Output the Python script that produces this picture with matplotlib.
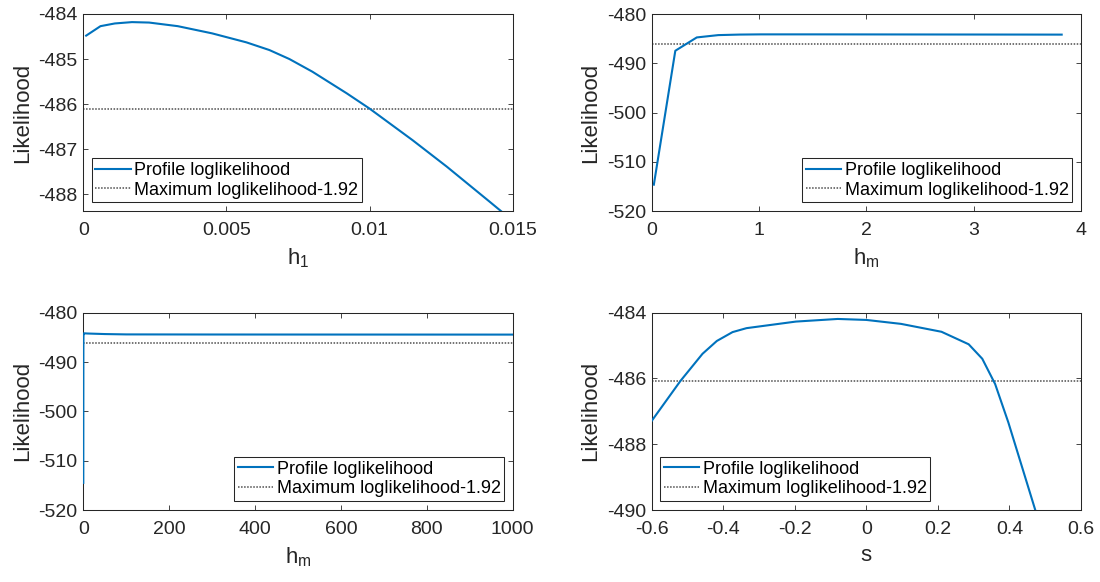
import numpy as np
import matplotlib.pyplot as plt

plt.rcParams['font.family'] = ['Liberation Sans', 'DejaVu Sans']
plt.rcParams['axes.unicode_minus'] = False
plt.rcParams['mathtext.default'] = 'regular'

# profile likelihood for h1
h1 = [0.0001, 0.0006, 0.0011, 0.0017, 0.0023, 0.0033, 0.0045, 0.0057, 0.0065, 0.0072,
      0.0080, 0.0086, 0.0092, 0.0100, 0.0115, 0.0127, 0.0142, 0.0146, 0.0155]
ll_h1 = [-484.48, -484.27, -484.21, -484.18, -484.19, -484.27, -484.43, -484.63, -484.80,
         -485.0, -485.28, -485.52, -485.76, -486.10, -486.8, -487.39, -488.17, -488.38,
         -488.85]

# profile likelihood for hm, small range
hm_small = [0.02, 0.22, 0.42, 0.62, 0.82, 1.02, 1.5, 2.0, 2.5, 3.0, 3.5, 3.82]
ll_hm_small = [-514.6, -487.45, -484.75, -484.28, -484.17, -484.13, -484.13, -484.14,
               -484.15, -484.16, -484.17, -484.18]

# profile likelihood for hm, wide range
hm_wide = [0.02, 0.22, 0.42, 1, 4, 10, 50, 100, 300, 600, 1000]
ll_hm_wide = [-514.5, -487.5, -484.8, -484.18, -484.19, -484.22, -484.33, -484.4,
              -484.42, -484.43, -484.44]

# profile likelihood for s
s_vals = [-0.6, -0.52, -0.458, -0.418, -0.374, -0.335, -0.197, -0.08, 0.0, 0.097,
          0.21, 0.286, 0.324, 0.36, 0.397, 0.436, 0.473, 0.51]
ll_s = [-487.29, -486.08, -485.25, -484.86, -484.59, -484.47, -484.27, -484.19, -484.22,
        -484.34, -484.58, -484.96, -485.4, -486.17, -487.34, -488.72, -490.03, -491.3]

cutoffs = [-486.10, -486.05, -486.1, -486.09]

blue = '#0072BD'
dark = '#262626'
W, H = 1100, 582

fig = plt.figure(figsize=(11, 5.82), dpi=100)


def make_axes(px_left, px_top, px_right, px_bottom):
    return fig.add_axes([px_left / W, 1 - px_bottom / H,
                         (px_right - px_left) / W, (px_bottom - px_top) / H])


def style(ax, xlabel, xlim, ylim, xticks, yticks):
    ax.set_xlim(xlim)
    ax.set_ylim(ylim)
    ax.set_xticks(xticks)
    ax.set_yticks(yticks)
    ax.set_xticklabels([f'{t:g}' for t in xticks])
    ax.set_yticklabels([f'{t:g}' for t in yticks])
    ax.tick_params(direction='in', top=True, right=True, labelsize=14,
                   colors=dark, length=3.6, width=0.6)
    ax.tick_params(axis='x', pad=8)
    ax.tick_params(axis='y', pad=4)
    for sp in ax.spines.values():
        sp.set_color(dark)
        sp.set_linewidth(0.75)
    ax.set_xlabel(xlabel, fontsize=16, color=dark, labelpad=5)
    ax.set_ylabel('Likelihood', fontsize=16, color=dark, labelpad=4)


L1, R1, L2, R2 = 83.3, 512.7, 651.7, 1081
panels = [
    ((L1, 14, R1, 211.3), h1, ll_h1, r'$h_1$', (0, 0.015), (-488.38, -484),
     [0, 0.005, 0.01, 0.015], [-488, -487, -486, -485, -484], 'lower left', (0.02, 0.046)),
    ((L2, 14, R2, 211.3), hm_small, ll_hm_small, r'$h_m$', (0, 4), (-520, -480),
     [0, 1, 2, 3, 4], [-520, -510, -500, -490, -480], 'lower right', (0.98, 0.046)),
    ((L1, 312.7, R1, 510), hm_wide, ll_hm_wide, r'$h_m$', (0, 1000), (-520, -480),
     [0, 200, 400, 600, 800, 1000], [-520, -510, -500, -490, -480], 'lower right', (0.98, 0.046)),
    ((L2, 312.7, R2, 510), s_vals, ll_s, 's', (-0.6, 0.6), (-490, -484),
     [-0.6, -0.4, -0.2, 0, 0.2, 0.4, 0.6], [-490, -488, -486, -484], 'lower left', (0.02, 0.046)),
]

for (box, x, y, xlabel, xlim, ylim, xt, yt, loc, anchor), cut in zip(panels, cutoffs):
    ax = make_axes(*box)
    ax.plot(x, y, color=blue, lw=1.5, zorder=3, label='Profile loglikelihood')
    ax.axhline(cut, color='#4d4d4d', ls=(0, (1, 1)), lw=1.1,
               label='Maximum loglikelihood-1.92')
    style(ax, xlabel, xlim, ylim, xt, yt)
    leg = ax.legend(loc=loc, bbox_to_anchor=anchor, borderaxespad=0, fontsize=13,
                    fancybox=False, framealpha=1, edgecolor=dark, handlelength=1.95,
                    handletextpad=0.2, labelspacing=0.15, borderpad=0.2)
    leg.get_frame().set_linewidth(0.75)
    leg.set_zorder(5)

fig.savefig('out.png', dpi=100)
